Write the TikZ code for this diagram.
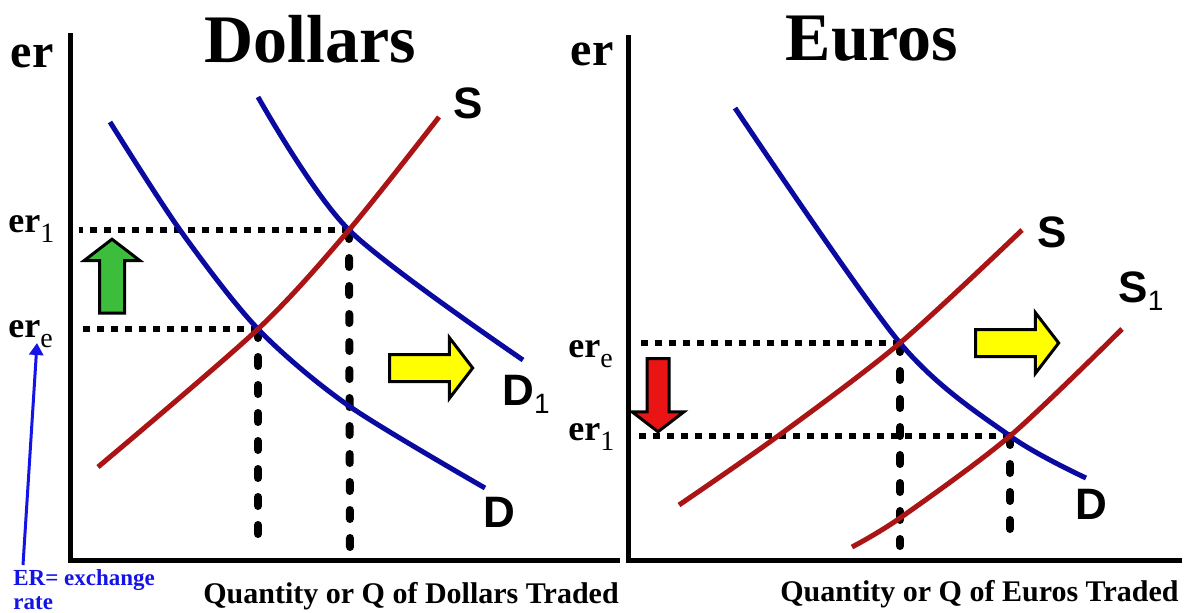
\documentclass[tikz,border=0pt]{standalone}
\usepackage{fontspec}
\setmainfont{Liberation Serif}
\newfontfamily\curvesans{Liberation Sans}
\usepackage{tikz}
\usetikzlibrary{shapes.arrows, arrows.meta, positioning}
\definecolor{demandblue}{RGB}{10,10,160}
\definecolor{supplyred}{RGB}{170,20,20}
\definecolor{upgreen}{RGB}{60,190,60}
\definecolor{shiftyellow}{RGB}{255,255,0}
\definecolor{downred}{RGB}{235,20,20}
\definecolor{noteblue}{RGB}{20,20,230}
\newcommand{\ersub}[1]{\raisebox{-5pt}{\mdseries\fontsize{14}{16}\selectfont #1}}
\newcommand{\curvesub}[1]{\raisebox{-4pt}{\mdseries\fontsize{14}{16}\selectfont #1}}
\tikzset{
  axisline/.style={line width=2.5pt, line join=miter},
  demand/.style={draw=demandblue, line width=2.5pt},
  supply/.style={draw=supplyred, line width=2.5pt},
  dotline/.style={line width=3pt, dash pattern=on 3.5pt off 3.5pt},
  dropline/.style={line width=4pt, line cap=round, dash pattern=on 4.5pt off 9.5pt},
  marketitle/.style={font=\fontsize{34}{40}\selectfont\bfseries, inner sep=0pt},
  axislabel/.style={font=\fontsize{15}{18}\selectfont\bfseries, inner sep=0pt},
  erlabel/.style={font=\fontsize{18}{22}\selectfont\bfseries, inner sep=0pt},
  ertop/.style={font=\fontsize{24}{28}\selectfont\bfseries, inner sep=0pt},
  curvelabel/.style={font=\curvesans\fontsize{22}{26}\selectfont\bfseries, inner sep=0pt},
  notelabel/.style={font=\fontsize{11.5}{14}\selectfont\bfseries, text=noteblue, inner sep=0pt},
  shiftarrow/.style={single arrow, draw=black, line width=1.5pt,
                     single arrow tip angle=105, single arrow head indent=0pt},
}

\begin{document}
\begin{tikzpicture}[x=0.5pt, y=-0.5pt]
  \useasboundingbox (0,0) rectangle (1190,612);
  \clip (0,0) rectangle (1190,612);

  % --- Dollars market ---
  \coordinate (Ltop) at (70,33);
  \coordinate (Lorig) at (70,560);
  \coordinate (Lend) at (620,560);
  \draw[axisline] (Ltop) -- (Lorig) -- (Lend);

  \node[marketitle, anchor=base] (dtitle) at (310,62) {Dollars};
  \node[ertop, anchor=base] (ery1) at (32,67) {er};
  \node[erlabel, anchor=base west] (er1L) at (8,232) {er\ersub{1}};
  \node[erlabel, anchor=base west] (ereL) at (8,337) {er\ersub{e}};

  \coordinate (eqA) at (258,329);
  \coordinate (eqB) at (349,230);
  \coordinate (Lgap) at (79,0);

  \draw[dotline] (eqB) -- (eqB -| Lgap);
  \draw[dotline] (eqA) -- (eqA -| Lgap);
  \draw[dropline] (eqA) -- (258,545);
  \draw[dropline] (eqB) -- (350,550);

  \draw[demand] plot[smooth] coordinates {(110,122) (180,230) (258,329) (349,406) (485,488)};
  \draw[demand] plot[smooth] coordinates {(258,97) (349,230) (523,360)};
  \draw[supply] plot[smooth] coordinates {(98,467) (258,329) (349,230) (439,117)};

  \node[curvelabel, anchor=base west] (sL) at (453,118) {S};
  \node[curvelabel, anchor=base west] (d1L) at (502,405) {D\curvesub{1}};
  \node[curvelabel, anchor=base west] (dL) at (483,527) {D};

  \node[shiftarrow, fill=upgreen, rotate=90, minimum height=37pt,
        inner sep=5.5pt, single arrow head extend=7.75pt] (uparr) at (112,281) {};
  \node[shiftarrow, fill=shiftyellow, minimum height=41.5pt,
        inner sep=6pt, single arrow head extend=8.5pt] (rightL) at (426,368) {};

  \node[axislabel, anchor=base west] (qL) at (203,603) {Quantity or Q of Dollars Traded};

  % --- note on er ---
  \node[notelabel, anchor=base west] (note1) at (13,585) {ER= exchange};
  \node[notelabel, anchor=base west] (note2) at (13,609) {rate};
  \coordinate (notetail) at (23,565);
  \coordinate (notehead) at (37,343);
  \draw[noteblue, line width=1.5pt, -{Triangle[length=6pt, width=7pt]}] (notetail) -- (notehead);

  % --- Euros market ---
  \coordinate (Rtop) at (628,35);
  \coordinate (Rorig) at (628,560);
  \coordinate (Rend) at (1182,560);
  \draw[axisline] (Rtop) -- (Rorig) -- (Rend);

  \node[marketitle, anchor=base] (etitle) at (872,60) {Euros};
  \node[ertop, anchor=base] (ery2) at (592,65) {er};
  \node[erlabel, anchor=base west] (ereR) at (568,357) {er\ersub{e}};
  \node[erlabel, anchor=base west] (er1R) at (568,440) {er\ersub{1}};

  \coordinate (eqC) at (900,343);
  \coordinate (eqD) at (1010,436);
  \coordinate (Rgap) at (639,0);

  \draw[dotline] (eqC) -- (eqC -| Rgap);
  \draw[dotline] (eqD) -- (eqD -| Rgap);
  \draw[dropline] (eqC) -- (900,546);
  \draw[dropline] (eqD) -- (1010,546);

  \draw[demand] plot[smooth] coordinates {(735,108) (900,343) (1010,436) (1086,478)};
  \draw[supply] plot[smooth] coordinates {(679,505) (778,436) (900,343) (1022,230)};
  \draw[supply] plot[smooth] coordinates {(852,547) (900,518) (1010,436) (1122,329)};

  \node[curvelabel, anchor=base west] (sR) at (1037,247) {S};
  \node[curvelabel, anchor=base west] (s1R) at (1118,302) {S\curvesub{1}};
  \node[curvelabel, anchor=base west] (dR) at (1075,519) {D};

  \node[shiftarrow, fill=downred, rotate=-90, minimum height=36.5pt,
        inner sep=4.75pt, single arrow head extend=7.5pt] (downarr) at (658,391) {};
  \node[shiftarrow, fill=shiftyellow, minimum height=41.5pt,
        inner sep=6pt, single arrow head extend=8.5pt] (rightR) at (1012,343) {};

  \node[axislabel, anchor=base west] (qR) at (780,601) {Quantity or Q of Euros Traded};
\end{tikzpicture}
\end{document}
